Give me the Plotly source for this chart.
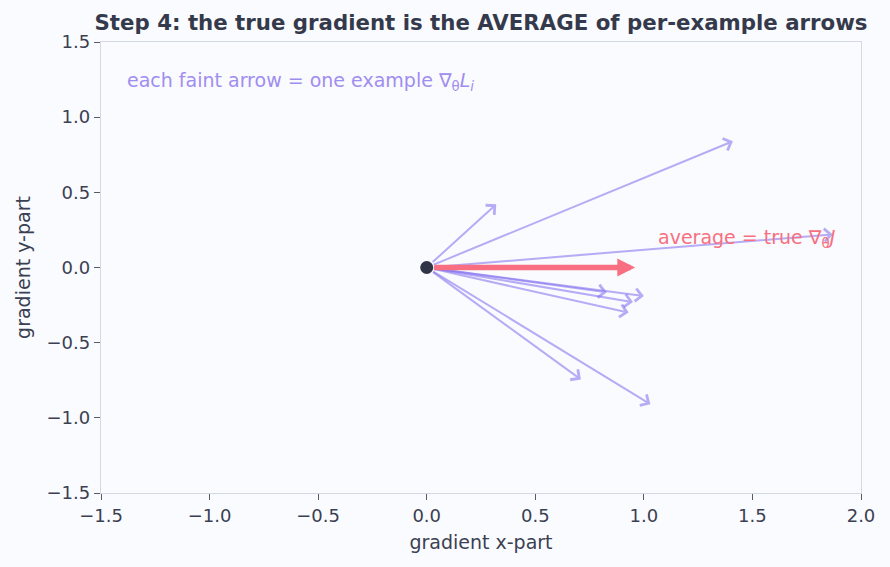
import plotly.graph_objects as go

# per-example gradient arrows (tips), all starting at origin
ex_x = [1.41, 0.32, 1.87, 0.83, 1.00, 0.95, 0.93, 0.71, 1.03]
ex_y = [0.84, 0.42, 0.22, -0.165, -0.19, -0.23, -0.30, -0.745, -0.91]
# average (true gradient) arrow tip
avg_x = [0.96]
avg_y = [0.0]
origin = [0.0, 0.0]

x_ticks = [-1.5, -1.0, -0.5, 0.0, 0.5, 1.0, 1.5, 2.0]
y_ticks = [-1.5, -1.0, -0.5, 0.0, 0.5, 1.0, 1.5]

PURPLE = "rgba(135,115,240,0.58)"
RED = "#f76f81"
DARK = "#2f3447"
TEXT = "#3a3f52"
BG = "#fafbfe"
FONT = "DejaVu Sans"

fig = go.Figure()

fig.add_trace(go.Scatter(x=[origin[0]], y=[origin[1]], mode="markers",
                         marker=dict(size=13, color=DARK), showlegend=False,
                         hoverinfo="skip"))

annotations = []
for x, y in zip(ex_x, ex_y):
    annotations.append(dict(x=x, y=y, ax=origin[0], ay=origin[1], xref="x", yref="y",
                            axref="x", ayref="y", showarrow=True, text="",
                            arrowhead=4, arrowsize=1.25, arrowwidth=2.0,
                            arrowcolor=PURPLE, standoff=0, startstandoff=6))
for x, y in zip(avg_x, avg_y):
    annotations.append(dict(x=x, y=y, ax=origin[0], ay=origin[1], xref="x", yref="y",
                            axref="x", ayref="y", showarrow=True, text="",
                            arrowhead=2, arrowsize=0.65, arrowwidth=5.5,
                            arrowcolor=RED, standoff=0, startstandoff=6))

annotations.append(dict(x=-1.39, y=1.24, xref="x", yref="y", showarrow=False,
                        xanchor="left", yanchor="middle",
                        text="each faint arrow = one example ∇<sub>θ</sub><i>L<sub>i</sub></i>",
                        font=dict(size=19, color="#a08df0", family=FONT)))
annotations.append(dict(x=1.055, y=0.19, xref="x", yref="y", showarrow=False,
                        xanchor="left", yanchor="middle",
                        text="average = true ∇<sub>θ</sub><i>J</i>",
                        font=dict(size=19, color=RED, family=FONT)))

fig.update_layout(
    width=890, height=567,
    margin=dict(l=101, r=29, t=42, b=74),
    paper_bgcolor=BG, plot_bgcolor=BG,
    font=dict(family=FONT, color=TEXT, size=18),
    title=dict(text="<b>Step 4: the true gradient is the AVERAGE of per-example arrows</b>",
               x=0.5, xref="paper", xanchor="center", y=0.96, yanchor="middle",
               font=dict(size=21.3, color="#343a4b", family=FONT)),
    annotations=annotations,
    showlegend=False,
)
fig.update_xaxes(range=[-1.5, 2.0], tickvals=x_ticks,
                 ticktext=[f"{v:.1f}".replace("-", "−") for v in x_ticks],
                 showgrid=False, zeroline=False, showline=True, mirror=True,
                 linecolor="#d3dae3", linewidth=1.3, ticks="outside", ticklen=6,
                 tickcolor="#555b6b", automargin=False,
                 title=dict(text="gradient x-part", standoff=10, font=dict(size=19)),
                 tickfont=dict(size=18))
fig.update_yaxes(range=[-1.5, 1.5], tickvals=y_ticks,
                 ticktext=[f"{v:.1f}".replace("-", "−") for v in y_ticks],
                 showgrid=False, zeroline=False, showline=True, mirror=True,
                 linecolor="#d3dae3", linewidth=1.3, ticks="outside", ticklen=6,
                 tickcolor="#555b6b", automargin=False,
                 title=dict(text="gradient y-part", standoff=10, font=dict(size=19)),
                 tickfont=dict(size=18))

fig.write_html("out.html")
